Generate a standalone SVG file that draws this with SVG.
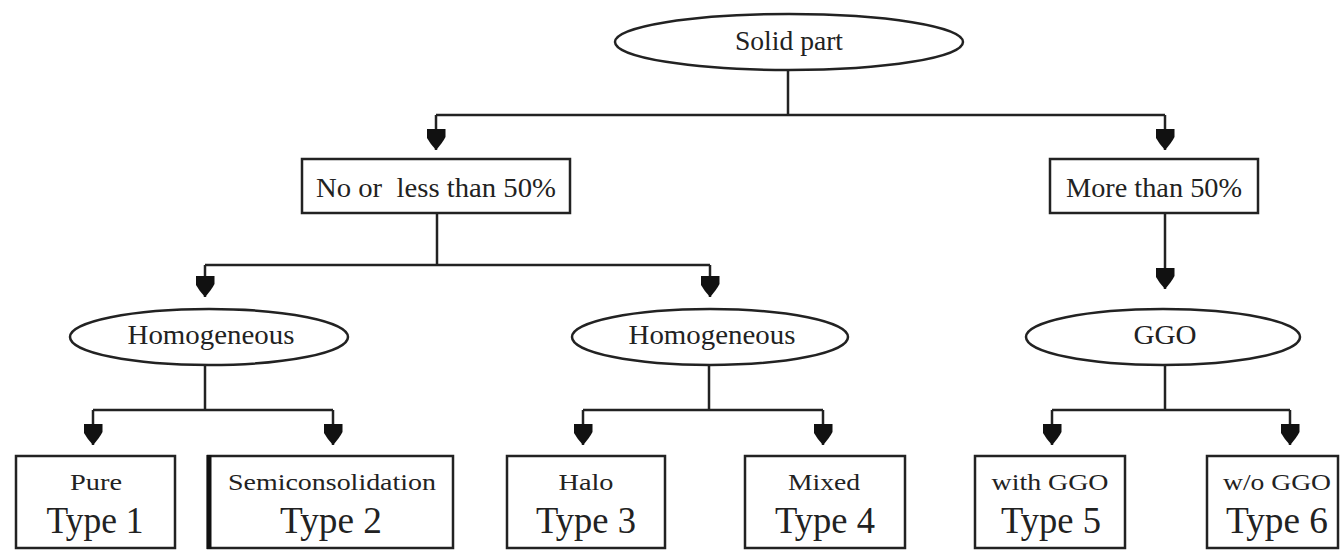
<svg xmlns="http://www.w3.org/2000/svg" width="1340" height="551" viewBox="0 0 1340 551">
<style>
.n{fill:#fff;stroke:#222;stroke-width:2.5}
.t{font-family:"Liberation Serif","Times New Roman",serif;fill:#222;text-anchor:middle}
.m{font-size:27px}
.s{font-size:23px}
.b{font-size:38px}
.c{fill:none;stroke:#222;stroke-width:2.5}
</style>
<defs>
<marker id="ah" viewBox="0 0 21 19" refX="21" refY="9.5" markerWidth="21" markerHeight="19" markerUnits="userSpaceOnUse" orient="auto">
<path d="M0,0 L8,0 Q14,3 21,9.5 Q14,16 8,19 L0,19 Z" fill="#111"/>
</marker>
</defs>
<g id="connectors">
<path class="c" d="M788,70 V115"/>
<path class="c" d="M436,115 H1165"/>
<path class="c" d="M436,115 V150" marker-end="url(#ah)"/>
<path class="c" d="M1165,115 V150" marker-end="url(#ah)"/>
<path class="c" d="M437,213 V265"/>
<path class="c" d="M205,265 H710"/>
<path class="c" d="M205,265 V297" marker-end="url(#ah)"/>
<path class="c" d="M710,265 V297" marker-end="url(#ah)"/>
<path class="c" d="M1165,213 V289" marker-end="url(#ah)"/>
<path class="c" d="M205,365 V410"/>
<path class="c" d="M93,410 H333"/>
<path class="c" d="M93,410 V445" marker-end="url(#ah)"/>
<path class="c" d="M333,410 V445" marker-end="url(#ah)"/>
<path class="c" d="M709,365 V410"/>
<path class="c" d="M583,410 H823"/>
<path class="c" d="M583,410 V445" marker-end="url(#ah)"/>
<path class="c" d="M823,410 V445" marker-end="url(#ah)"/>
<path class="c" d="M1165,365 V410"/>
<path class="c" d="M1052,410 H1290"/>
<path class="c" d="M1052,410 V445" marker-end="url(#ah)"/>
<path class="c" d="M1290,410 V445" marker-end="url(#ah)"/>
</g>
<g id="solid-part">
<ellipse class="n" cx="789" cy="42" rx="174" ry="28"/>
<text class="t m" x="789" y="50" textLength="108" lengthAdjust="spacingAndGlyphs">Solid part</text>
</g>
<g id="less-50">
<rect class="n" x="302" y="159" width="268" height="54"/>
<text class="t m" x="436" y="197" textLength="240" lengthAdjust="spacingAndGlyphs" xml:space="preserve">No or  less than 50%</text>
</g>
<g id="more-50">
<rect class="n" x="1050" y="159" width="208" height="54"/>
<text class="t m" x="1154" y="197" textLength="176" lengthAdjust="spacingAndGlyphs">More than 50%</text>
</g>
<g id="homog-1">
<ellipse class="n" cx="209" cy="337" rx="139" ry="28"/>
<text class="t m" x="211" y="344" textLength="167" lengthAdjust="spacingAndGlyphs">Homogeneous</text>
</g>
<g id="homog-2">
<ellipse class="n" cx="710" cy="337" rx="138" ry="28"/>
<text class="t m" x="712" y="344" textLength="167" lengthAdjust="spacingAndGlyphs">Homogeneous</text>
</g>
<g id="ggo">
<ellipse class="n" cx="1163" cy="337" rx="137" ry="28"/>
<text class="t m" x="1165" y="344" textLength="63" lengthAdjust="spacingAndGlyphs">GGO</text>
</g>
<g id="type1">
<rect class="n" x="16" y="456" width="159" height="92"/>
<text class="t s" x="96" y="490" textLength="52" lengthAdjust="spacingAndGlyphs">Pure</text>
<text class="t b" x="95" y="533" textLength="97" lengthAdjust="spacingAndGlyphs">Type 1</text>
</g>
<g id="type2">
<rect class="n" x="208" y="456" width="245" height="92"/>
<path d="M209,455 V549" stroke="#111" stroke-width="5"/>
<text class="t s" x="332" y="490" textLength="208" lengthAdjust="spacingAndGlyphs">Semiconsolidation</text>
<text class="t b" x="331" y="533" textLength="102" lengthAdjust="spacingAndGlyphs">Type 2</text>
</g>
<g id="type3">
<rect class="n" x="507" y="456" width="158" height="92"/>
<text class="t s" x="586" y="490" textLength="55" lengthAdjust="spacingAndGlyphs">Halo</text>
<text class="t b" x="586" y="533" textLength="100" lengthAdjust="spacingAndGlyphs">Type 3</text>
</g>
<g id="type4">
<rect class="n" x="745" y="456" width="160" height="92"/>
<text class="t s" x="824" y="490" textLength="72" lengthAdjust="spacingAndGlyphs">Mixed</text>
<text class="t b" x="825" y="533" textLength="100" lengthAdjust="spacingAndGlyphs">Type 4</text>
</g>
<g id="type5">
<rect class="n" x="975" y="456" width="150" height="92"/>
<text class="t s" x="1050" y="490" textLength="117" lengthAdjust="spacingAndGlyphs">with GGO</text>
<text class="t b" x="1051" y="533" textLength="100" lengthAdjust="spacingAndGlyphs">Type 5</text>
</g>
<g id="type6">
<rect class="n" x="1207" y="456" width="131" height="92"/>
<text class="t s" x="1277" y="490" textLength="108" lengthAdjust="spacingAndGlyphs">w/o GGO</text>
<text class="t b" x="1277" y="533" textLength="102" lengthAdjust="spacingAndGlyphs">Type 6</text>
</g>
</svg>
